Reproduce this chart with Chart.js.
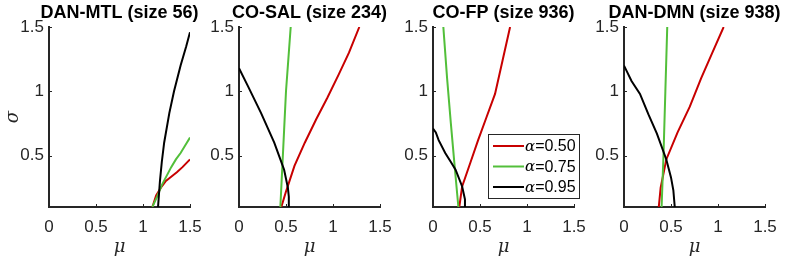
<!DOCTYPE html>
<html lang="en">
<head>
    <meta charset="UTF-8">
    <title>Alpha curves</title>
    <script src="https://cdn.jsdelivr.net/npm/chart.js"></script>
    <style>
        body {
            margin: 0;
            background: #fff;
        }
        .wrap {
            position: relative;
            width: 790px;
            height: 262px;
            overflow: hidden;
        }
        .panel {
            position: absolute;
            top: 0;
            width: 237px;
            height: 262px;
        }
    </style>
</head>
<body>
    <div class="wrap" id="wrap"></div>

    <script>
        // Titles, labels and ticks
        const panelTitles = ['DAN-MTL (size 56)', 'CO-SAL (size 234)', 'CO-FP (size 936)', 'DAN-DMN (size 938)'];
        const alphaLabels = ['α=0.50', 'α=0.75', 'α=0.95'];
        const xTicks = [0, 0.5, 1, 1.5];
        const yTicks = [0.5, 1, 1.5];

        // curves as [mu, sigma]
        const mtl50 = [[1.1,0.1],[1.14,0.19],[1.19,0.25],[1.24,0.3],[1.29,0.33],[1.36,0.37],[1.42,0.41],[1.5,0.47]];
        const mtl75 = [[1.1,0.1],[1.15,0.18],[1.2,0.27],[1.25,0.34],[1.3,0.41],[1.35,0.47],[1.4,0.52],[1.45,0.58],[1.5,0.64]];
        const mtl95 = [[1.16,0.1],[1.18,0.3],[1.2,0.45],[1.225,0.6],[1.28,0.83],[1.33,1.0],[1.4,1.2],[1.46,1.35],[1.5,1.46]];

        const sal50 = [[0.45,0.1],[0.5,0.22],[0.59,0.42],[0.7,0.6],[0.82,0.78],[0.94,0.95],[1.06,1.13],[1.17,1.3],[1.28,1.5]];
        const sal75 = [[0.44,0.1],[0.46,0.4],[0.48,0.7],[0.5,1.0],[0.525,1.25],[0.55,1.5]];
        const sal95 = [[0,1.18],[0.095,1.04],[0.235,0.83],[0.375,0.6],[0.44,0.47],[0.48,0.39],[0.52,0.25],[0.53,0.18],[0.53,0.1]];

        const fp50 = [[0.28,0.1],[0.31,0.26],[0.4,0.45],[0.48,0.62],[0.57,0.8],[0.66,0.98],[0.74,1.24],[0.82,1.5]];
        const fp75 = [[0.11,1.5],[0.15,1.1],[0.19,0.75],[0.23,0.42],[0.27,0.1]];
        const fp95 = [[0,0.71],[0.03,0.68],[0.06,0.62],[0.13,0.52],[0.19,0.45],[0.24,0.39],[0.31,0.26],[0.34,0.16],[0.34,0.1]];

        const dmn50 = [[0.37,0.1],[0.39,0.25],[0.45,0.47],[0.57,0.68],[0.7,0.88],[0.82,1.1],[0.94,1.3],[1.06,1.5]];
        const dmn75 = [[0.4,0.1],[0.42,0.5],[0.44,1.0],[0.46,1.5]];
        const dmn95 = [[0,1.2],[0.08,1.08],[0.17,0.98],[0.26,0.82],[0.35,0.67],[0.45,0.47],[0.5,0.33],[0.525,0.23],[0.54,0.1]];

        const panelData = [
            [mtl50, mtl75, mtl95],
            [sal50, sal75, sal95],
            [fp50, fp75, fp95],
            [dmn50, dmn75, dmn95]
        ];

        const lineColors = ['#c80000', '#52bf3a', '#000000'];
        const plotLefts = [49, 239, 433, 624];
        const yAxisWidth = 48;
        const axisColor = '#262626';
        const labelFont = '"Liberation Sans", Arial, sans-serif';

        // title centred over the plot area (not over the whole canvas)
        const areaTitle = {
            id: 'areaTitle',
            afterDraw(chart, args, opts) {
                const ctx = chart.ctx;
                const area = chart.chartArea;
                ctx.save();
                ctx.fillStyle = '#000';
                ctx.font = 'bold 18px ' + labelFont;
                ctx.textAlign = 'center';
                ctx.textBaseline = 'middle';
                ctx.fillText(opts.text, (area.left + area.right) / 2, 13);
                ctx.restore();
            }
        };

        // inward tick marks, MATLAB style
        const innerTicks = {
            id: 'innerTicks',
            afterDraw(chart) {
                const ctx = chart.ctx;
                const area = chart.chartArea;
                const xs = chart.scales.x, ys = chart.scales.y;
                ctx.save();
                ctx.strokeStyle = axisColor;
                ctx.lineWidth = 1;
                ctx.beginPath();
                xTicks.forEach(v => {
                    const px = Math.round(xs.getPixelForValue(v)) + 0.5;
                    ctx.moveTo(px, area.bottom);
                    ctx.lineTo(px, area.bottom - 3);
                });
                yTicks.forEach(v => {
                    const py = Math.round(ys.getPixelForValue(v)) + 0.5;
                    ctx.moveTo(area.left, py);
                    ctx.lineTo(area.left + 3, py);
                });
                ctx.stroke();
                ctx.restore();
            }
        };

        // legend box inside the third panel
        const boxLegend = {
            id: 'boxLegend',
            afterDraw(chart, args, opts) {
                if (!opts.show) return;
                const ctx = chart.ctx;
                const area = chart.chartArea;
                const left = area.right - 86, top = 134;
                const w = 91, h = 64;
                ctx.save();
                ctx.fillStyle = '#fff';
                ctx.fillRect(left, top, w, h);
                ctx.strokeStyle = axisColor;
                ctx.lineWidth = 1;
                ctx.strokeRect(left + 0.5, top + 0.5, w, h);
                chart.data.datasets.forEach((ds, i) => {
                    const y = top + 12 + i * 20.5;
                    ctx.strokeStyle = ds.borderColor;
                    ctx.lineWidth = 2;
                    ctx.beginPath();
                    ctx.moveTo(left + 5, y);
                    ctx.lineTo(left + 36, y);
                    ctx.stroke();
                    ctx.fillStyle = '#000';
                    ctx.textBaseline = 'middle';
                    ctx.font = 'italic 15px "DejaVu Serif"';
                    const a = ds.label.charAt(0);
                    ctx.fillText(a, left + 37, y + 1);
                    const aw = ctx.measureText(a).width;
                    ctx.font = '16px ' + labelFont;
                    ctx.fillText(ds.label.slice(1), left + 37 + aw, y + 1);
                });
                ctx.restore();
            }
        };

        const wrap = document.getElementById('wrap');

        panelTitles.forEach((title, p) => {
            const div = document.createElement('div');
            div.className = 'panel';
            div.style.left = (plotLefts[p] - yAxisWidth) + 'px';
            const canvas = document.createElement('canvas');
            div.appendChild(canvas);
            wrap.appendChild(div);

            new Chart(canvas, {
                type: 'scatter',
                data: {
                    datasets: panelData[p].map((pts, i) => ({
                        label: alphaLabels[i],
                        data: pts.map(d => ({ x: d[0], y: d[1] })),
                        showLine: true,
                        borderColor: lineColors[i],
                        backgroundColor: lineColors[i],
                        borderWidth: 2,
                        pointRadius: 0,
                        tension: 0,
                        order: 2 - i
                    }))
                },
                options: {
                    responsive: true,
                    maintainAspectRatio: false,
                    animation: false,
                    layout: { padding: { left: 0, right: 48, top: 27, bottom: 0 } },
                    plugins: {
                        legend: { display: false },
                        tooltip: { enabled: false },
                        title: { display: false },
                        areaTitle: { text: title },
                        boxLegend: { show: p === 2 }
                    },
                    scales: {
                        x: {
                            type: 'linear',
                            min: 0,
                            max: 1.5,
                            afterBuildTicks: s => { s.ticks = xTicks.map(v => ({ value: v })); },
                            afterFit: s => { s.height = 55; },
                            grid: { drawOnChartArea: false, drawTicks: false },
                            border: { color: axisColor, width: 2 },
                            ticks: {
                                color: axisColor,
                                padding: 10,
                                maxRotation: 0,
                                font: { family: labelFont, size: 17 },
                                callback: v => String(v)
                            },
                            title: {
                                display: true,
                                text: 'μ',
                                color: axisColor,
                                font: { family: '"DejaVu Serif"', size: 18, style: 'italic' },
                                padding: { top: 0, bottom: 4 }
                            }
                        },
                        y: {
                            type: 'linear',
                            min: 0.1,
                            max: 1.5,
                            afterBuildTicks: s => { s.ticks = yTicks.map(v => ({ value: v })); },
                            afterFit: s => { s.width = yAxisWidth; },
                            grid: { drawOnChartArea: false, drawTicks: false },
                            border: { color: axisColor, width: 2 },
                            ticks: {
                                color: axisColor,
                                padding: 5,
                                font: { family: labelFont, size: 17 },
                                callback: v => String(v)
                            },
                            title: {
                                display: p === 0,
                                text: 'σ',
                                color: axisColor,
                                font: { family: '"DejaVu Serif"', size: 18, style: 'italic' },
                                padding: { top: 2, bottom: 0 }
                            }
                        }
                    }
                },
                plugins: [areaTitle, innerTicks, boxLegend]
            });
        });
    </script>
</body>
</html>
